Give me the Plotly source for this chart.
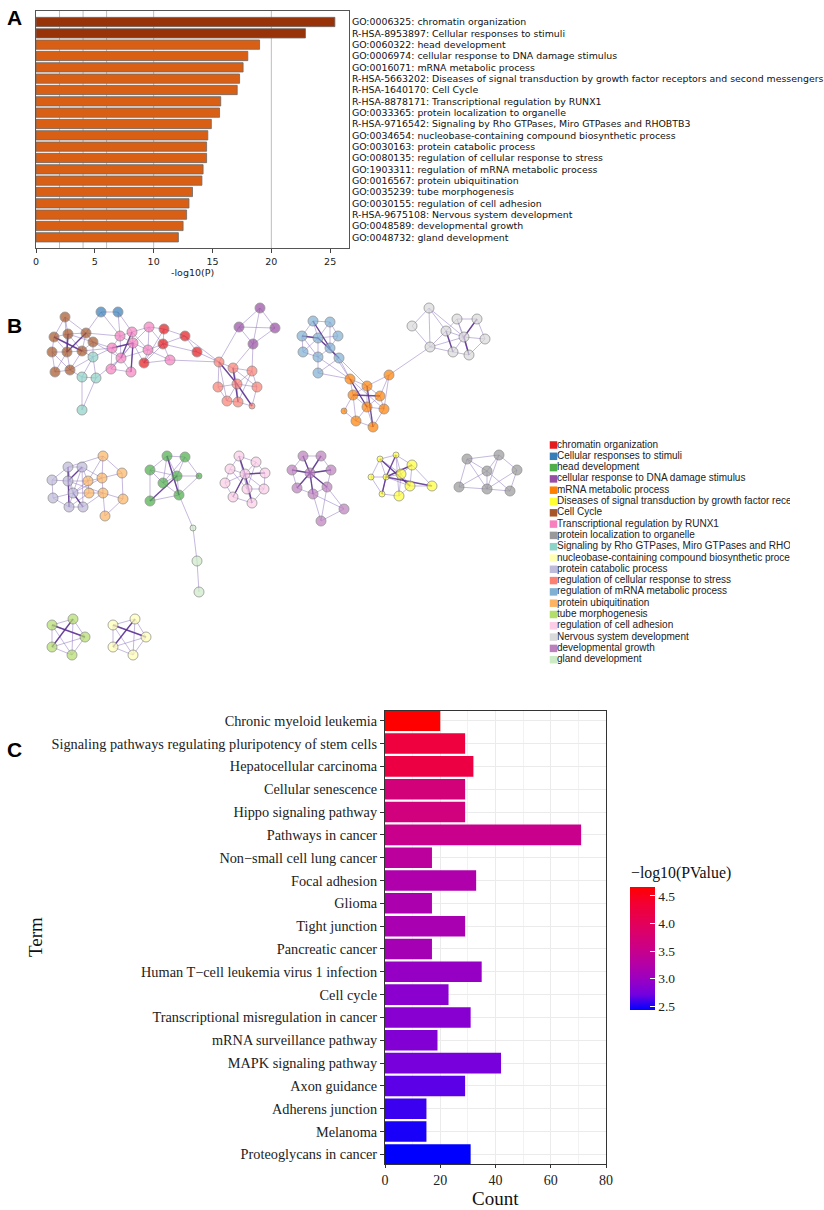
import plotly.graph_objects as go

W, H = 824, 1210

# ---------------- Panel A data ----------------
A_TERMS = [
    "GO:0006325: chromatin organization",
    "R-HSA-8953897: Cellular responses to stimuli",
    "GO:0060322: head development",
    "GO:0006974: cellular response to DNA damage stimulus",
    "GO:0016071: mRNA metabolic process",
    "R-HSA-5663202: Diseases of signal transduction by growth factor receptors and second messengers",
    "R-HSA-1640170: Cell Cycle",
    "R-HSA-8878171: Transcriptional regulation by RUNX1",
    "GO:0033365: protein localization to organelle",
    "R-HSA-9716542: Signaling by Rho GTPases, Miro GTPases and RHOBTB3",
    "GO:0034654: nucleobase-containing compound biosynthetic process",
    "GO:0030163: protein catabolic process",
    "GO:0080135: regulation of cellular response to stress",
    "GO:1903311: regulation of mRNA metabolic process",
    "GO:0016567: protein ubiquitination",
    "GO:0035239: tube morphogenesis",
    "GO:0030155: regulation of cell adhesion",
    "R-HSA-9675108: Nervous system development",
    "GO:0048589: developmental growth",
    "GO:0048732: gland development",
]
A_LOGP = [25.4, 22.9, 19.0, 18.0, 17.6, 17.3, 17.1, 15.7, 15.6, 14.9,
          14.6, 14.5, 14.5, 14.2, 14.1, 13.3, 13.0, 12.8, 12.5, 12.1]
A_TICKS = [0, 5, 10, 15, 20, 25]
A_GRID = [2, 4, 6, 10, 20]

# ---------------- Panel B data ----------------
B_TERMS = [
    "chromatin organization",
    "Cellular responses to stimuli",
    "head development",
    "cellular response to DNA damage stimulus",
    "mRNA metabolic process",
    "Diseases of signal transduction by growth factor receptors and second messengers",
    "Cell Cycle",
    "Transcriptional regulation by RUNX1",
    "protein localization to organelle",
    "Signaling by Rho GTPases, Miro GTPases and RHOBTB3",
    "nucleobase-containing compound biosynthetic process",
    "protein catabolic process",
    "regulation of cellular response to stress",
    "regulation of mRNA metabolic process",
    "protein ubiquitination",
    "tube morphogenesis",
    "regulation of cell adhesion",
    "Nervous system development",
    "developmental growth",
    "gland development",
]
B_KEYS = ["chrom", "stim", "head", "dna", "mrna", "dis", "cycle", "runx", "loc", "rho",
          "nuc", "cat", "stress", "regmrna", "ubq", "tube", "adh", "nerv", "growth", "gland"]

# node positions (network layout coordinates)
B_NODES = {
    "cycle": [(65, 317), (54, 337), (68, 334), (86, 333), (93, 342), (52, 352), (67, 352), (82, 351), (55, 372), (70, 370)],
    "stim": [(101, 312), (118, 312)],
    "rho": [(93, 357), (82, 377), (96, 378), (82, 410)],
    "runx": [(120, 336), (132, 332), (149, 327), (112, 348), (133, 343), (148, 350), (121, 358), (111, 369), (131, 372), (170, 360)],
    "chrom": [(164, 329), (185, 336), (163, 344), (197, 352), (144, 363)],
    "dna": [(260, 308), (239, 327), (275, 328), (253, 344)],
    "stress": [(219, 362), (233, 368), (252, 371), (218, 387), (237, 384), (257, 387), (227, 401), (238, 402), (252, 406)],
    "regmrna": [(313, 321), (330, 322), (302, 336), (318, 338), (338, 336), (303, 352), (330, 348), (318, 357), (339, 358), (318, 373)],
    "mrna": [(350, 379), (367, 386), (389, 375), (353, 395), (380, 396), (367, 407), (384, 409), (344, 411), (356, 421), (373, 427)],
    "nerv": [(429, 308), (412, 326), (430, 347), (446, 331), (457, 319), (477, 319), (464, 337), (485, 339), (453, 352), (469, 355)],
    "cat": [(68, 467), (82, 467), (52, 480), (68, 481), (73, 493), (53, 498), (69, 507), (83, 507)],
    "ubq": [(103, 456), (122, 473), (88, 481), (102, 478), (89, 493), (103, 493), (123, 499), (105, 516)],
    "head": [(167, 456), (185, 457), (150, 470), (177, 476), (199, 476), (163, 483), (150, 501), (179, 495)],
    "gland": [(193, 528), (197, 561), (199, 592)],
    "adh": [(239, 456), (256, 462), (230, 469), (245, 474), (265, 473), (225, 483), (247, 489), (264, 489), (233, 497), (252, 503)],
    "growth": [(303, 456), (321, 456), (292, 470), (310, 473), (331, 470), (297, 488), (313, 494), (327, 487), (344, 509), (321, 521)],
    "dis": [(380, 459), (396, 455), (412, 465), (371, 477), (386, 477), (401, 474), (410, 486), (432, 486), (382, 494), (399, 496)],
    "loc": [(467, 459), (499, 455), (487, 471), (517, 470), (459, 487), (487, 489), (510, 491)],
    "tube": [(52, 625), (73, 619), (85, 637), (52, 647), (72, 655)],
    "nuc": [(113, 625), (135, 619), (146, 637), (113, 647), (133, 655)],
}
B_SMALL = [("stress", 8), ("mrna", 7), ("head", 4), ("gland", 0),
           ("dis", 0), ("dis", 1), ("dis", 3), ("dis", 4), ("dis", 8)]

PENTA = [(0, 1), (1, 2), (2, 4), (4, 3), (3, 0), (0, 2), (1, 3), (1, 4), (2, 3), (0, 4)]
B_EDGES = {
    "cycle": [(0, 1), (0, 2), (0, 3), (1, 2), (1, 5), (1, 6), (2, 3), (2, 6), (2, 7), (3, 4), (3, 7), (4, 7),
              (5, 6), (5, 8), (6, 7), (6, 9), (7, 9), (8, 9), (1, 7), (2, 4), (5, 9), (6, 8), (0, 6), (3, 6)],
    "stim": [(0, 1)],
    "rho": [(0, 1), (0, 2), (1, 2), (1, 3), (2, 3)],
    "runx": [(0, 1), (0, 3), (0, 4), (1, 2), (1, 4), (2, 4), (2, 5), (3, 4), (3, 6), (4, 5), (4, 6), (4, 8),
             (5, 6), (6, 7), (6, 8), (7, 8), (5, 9), (0, 6), (3, 7), (1, 5), (4, 7)],
    "chrom": [(0, 1), (0, 2), (1, 2), (1, 3), (2, 3), (2, 4), (0, 4)],
    "dna": [(0, 1), (0, 2), (1, 3), (2, 3), (1, 2), (0, 3)],
    "stress": [(0, 1), (0, 3), (0, 4), (0, 6), (1, 2), (1, 4), (1, 7), (2, 4), (2, 5), (3, 4), (3, 6), (4, 5),
               (4, 6), (4, 7), (4, 8), (5, 8), (6, 7), (7, 8), (2, 7), (1, 5)],
    "regmrna": [(0, 1), (0, 2), (0, 3), (1, 3), (1, 4), (2, 3), (2, 5), (3, 4), (3, 6), (3, 7), (3, 8), (4, 6),
                (5, 7), (5, 3), (6, 8), (7, 9), (6, 7), (8, 9), (2, 7), (0, 6), (1, 6)],
    "mrna": [(0, 1), (0, 3), (0, 5), (1, 2), (1, 3), (1, 4), (1, 5), (2, 4), (3, 5), (3, 7), (4, 5), (4, 6),
             (5, 6), (5, 8), (5, 9), (6, 9), (7, 8), (8, 9), (0, 6), (2, 6), (3, 8)],
    "nerv": [(0, 1), (0, 2), (1, 2), (0, 3), (2, 3), (3, 4), (3, 6), (4, 5), (4, 6), (5, 6), (5, 7), (6, 7),
             (6, 8), (6, 9), (7, 9), (8, 9), (2, 8), (2, 6), (3, 8), (4, 9), (0, 6)],
    "cat": [(0, 1), (0, 2), (0, 3), (1, 3), (1, 4), (2, 3), (2, 5), (3, 4), (4, 5), (4, 6), (4, 7), (5, 6),
            (6, 7), (0, 4), (1, 7), (3, 6)],
    "ubq": [(0, 1), (0, 3), (1, 3), (1, 6), (2, 3), (3, 5), (5, 6), (4, 5), (5, 7), (6, 7), (2, 4), (0, 2)],
    "head": [(0, 1), (0, 2), (0, 3), (0, 7), (1, 3), (1, 4), (1, 5), (2, 5), (2, 6), (3, 4), (3, 5), (3, 7),
             (4, 7), (5, 7), (6, 7), (2, 3), (0, 5)],
    "gland": [(0, 1), (1, 2)],
    "adh": [(0, 1), (0, 2), (0, 3), (1, 3), (1, 4), (2, 3), (2, 5), (3, 4), (3, 6), (3, 7), (3, 8), (3, 9),
            (4, 7), (5, 8), (6, 7), (6, 9), (7, 9), (8, 9), (0, 6), (1, 6), (2, 6), (5, 3)],
    "growth": [(0, 1), (0, 2), (0, 3), (1, 3), (1, 4), (2, 3), (2, 5), (3, 4), (3, 5), (3, 6), (3, 7), (4, 7),
               (5, 6), (6, 7), (6, 8), (7, 8), (6, 9), (8, 9), (7, 9)],
    "dis": [(0, 1), (0, 3), (0, 4), (0, 5), (1, 2), (1, 5), (2, 5), (2, 6), (2, 7), (3, 4), (3, 8), (4, 5),
            (4, 6), (4, 8), (5, 6), (5, 9), (6, 7), (6, 9), (8, 9), (1, 9), (0, 6), (2, 4)],
    "loc": [(0, 1), (0, 2), (0, 4), (1, 2), (1, 3), (2, 4), (2, 5), (3, 5), (3, 6), (4, 5), (5, 6), (2, 6),
            (1, 5), (0, 5)],
    "tube": PENTA,
    "nuc": PENTA,
}
B_XEDGES = [
    (("stim", 0), ("cycle", 3)), (("stim", 1), ("runx", 1)), (("stim", 1), ("runx", 0)), (("stim", 0), ("runx", 0)),
    (("rho", 0), ("cycle", 4)), (("rho", 0), ("cycle", 7)), (("rho", 0), ("cycle", 9)), (("rho", 1), ("cycle", 9)),
    (("rho", 0), ("runx", 3)), (("rho", 2), ("runx", 6)),
    (("cycle", 4), ("runx", 3)), (("cycle", 3), ("runx", 0)), (("cycle", 4), ("runx", 6)), (("cycle", 7), ("runx", 3)),
    (("runx", 2), ("chrom", 0)), (("runx", 2), ("chrom", 2)), (("runx", 5), ("chrom", 2)), (("runx", 5), ("chrom", 4)),
    (("runx", 9), ("chrom", 2)), (("runx", 4), ("chrom", 4)), (("runx", 9), ("chrom", 4)),
    (("chrom", 3), ("stress", 0)), (("runx", 9), ("stress", 0)), (("chrom", 1), ("stress", 0)),
    (("dna", 1), ("stress", 0)), (("dna", 3), ("stress", 2)), (("dna", 3), ("stress", 1)),
    (("regmrna", 8), ("mrna", 0)), (("regmrna", 6), ("mrna", 0)), (("regmrna", 9), ("mrna", 0)),
    (("regmrna", 8), ("mrna", 1)), (("regmrna", 7), ("mrna", 0)),
    (("mrna", 2), ("nerv", 2)),
    (("cat", 3), ("ubq", 2)), (("cat", 4), ("ubq", 2)), (("cat", 1), ("ubq", 3)), (("cat", 4), ("ubq", 4)),
    (("cat", 0), ("ubq", 0)), (("cat", 7), ("ubq", 5)), (("cat", 4), ("ubq", 3)), (("cat", 1), ("ubq", 2)),
    (("cat", 3), ("ubq", 5)), (("cat", 6), ("ubq", 4)),
    (("head", 7), ("gland", 0)),
]
B_STRONG = [
    ("cycle", 1, 7), ("cycle", 2, 6), ("cycle", 6, 3), ("runx", 3, 4), ("runx", 4, 8), ("runx", 1, 6),
    ("stress", 4, 0), ("stress", 4, 8), ("stress", 1, 7), ("regmrna", 3, 2), ("regmrna", 3, 8), ("regmrna", 0, 6),
    ("mrna", 0, 5), ("mrna", 1, 9), ("mrna", 3, 4), ("nerv", 6, 5), ("nerv", 6, 9), ("nerv", 3, 8),
    ("cat", 3, 1), ("cat", 4, 7), ("cat", 0, 6), ("head", 0, 7), ("head", 3, 6),
    ("adh", 3, 0), ("adh", 3, 9), ("adh", 3, 8), ("adh", 3, 4),
    ("growth", 3, 0), ("growth", 3, 1), ("growth", 3, 4), ("growth", 3, 5), ("growth", 3, 6), ("growth", 3, 7), ("growth", 3, 2),
    ("dis", 4, 1), ("dis", 4, 2), ("dis", 4, 7), ("dis", 4, 8), ("dis", 0, 6),
    ("tube", 0, 2), ("tube", 1, 3), ("nuc", 0, 2), ("nuc", 1, 3),
]

# ---------------- Panel C data ----------------
C_TERMS = [
    "Chronic myeloid leukemia",
    "Signaling pathways regulating pluripotency of stem cells",
    "Hepatocellular carcinoma",
    "Cellular senescence",
    "Hippo signaling pathway",
    "Pathways in cancer",
    "Non\u2212small cell lung cancer",
    "Focal adhesion",
    "Glioma",
    "Tight junction",
    "Pancreatic cancer",
    "Human T\u2212cell leukemia virus 1 infection",
    "Cell cycle",
    "Transcriptional misregulation in cancer",
    "mRNA surveillance pathway",
    "MAPK signaling pathway",
    "Axon guidance",
    "Adherens junction",
    "Melanoma",
    "Proteoglycans in cancer",
]
C_COUNT = [20, 29, 32, 29, 29, 71, 17, 33, 17, 29, 17, 35, 23, 31, 19, 42, 29, 15, 15, 31]
C_LOGP = [4.67, 4.27, 4.22, 3.70, 3.67, 3.53, 3.35, 3.21, 3.18, 3.15,
          3.12, 2.97, 2.89, 2.86, 2.83, 2.75, 2.66, 2.58, 2.50, 2.44]
C_XTICKS = [0, 20, 40, 60, 80]
C_XMINOR = [10, 30, 50, 70]
C_CBAR_TICKS = [2.5, 3.0, 3.5, 4.0, 4.5]

# ---------------- styles ----------------
B_PALETTE = ["#E41A1C", "#377EB8", "#4DAF4A", "#984EA3", "#FF7F00", "#FFFF33", "#A65628", "#F781BF",
             "#999999", "#8DD3C7", "#FFFFB3", "#BEBADA", "#FB8072", "#80B1D3", "#FDB462", "#B3DE69",
             "#FCCDE5", "#D9D9D9", "#BC80BD", "#CCEBC5"]
C_SCALE = [[0.0, "rgb(0,0,255)"], [0.125, "rgb(115,0,224)"], [0.25, "rgb(154,0,194)"],
           [0.375, "rgb(181,0,165)"], [0.5, "rgb(202,0,136)"], [0.625, "rgb(218,0,108)"],
           [0.75, "rgb(232,0,79)"], [0.875, "rgb(244,0,49)"], [1.0, "rgb(255,0,0)"]]


def px(x):
    return x / W


def py(y):
    return 1 - y / H


fig = go.Figure()

# ---------- Panel A ----------
a_colors = ["#983208" if v > 20 else "#D95F14" for v in A_LOGP]
fig.add_trace(go.Bar(
    x=A_LOGP, y=A_TERMS, orientation="h", xaxis="x", yaxis="y", width=0.82,
    marker=dict(color=a_colors, line=dict(color="#6a6a6a", width=0.8)),
    showlegend=False, hoverinfo="skip"))

# ---------- Panel B ----------
key_color = {k: B_PALETTE[i] for i, k in enumerate(B_KEYS)}


def edge_xy(pairs):
    xs, ys = [], []
    for (x0, y0), (x1, y1) in pairs:
        xs += [x0, x1, None]
        ys += [y0, y1, None]
    return xs, ys


light = []
for k, prs in B_EDGES.items():
    for i, j in prs:
        light.append((B_NODES[k][i], B_NODES[k][j]))
for (k1, i), (k2, j) in B_XEDGES:
    light.append((B_NODES[k1][i], B_NODES[k2][j]))
strong = [(B_NODES[k][i], B_NODES[k][j]) for k, i, j in B_STRONG]

lx, ly = edge_xy(light)
fig.add_trace(go.Scatter(x=lx, y=ly, mode="lines", xaxis="x2", yaxis="y2",
                         line=dict(color="rgba(150,125,195,0.55)", width=1),
                         showlegend=False, hoverinfo="skip"))
sx, sy = edge_xy(strong)
fig.add_trace(go.Scatter(x=sx, y=sy, mode="lines", xaxis="x2", yaxis="y2",
                         line=dict(color="rgba(88,45,145,0.85)", width=1.4),
                         showlegend=False, hoverinfo="skip"))

small = set(B_SMALL)
nx, ny, nc, ns = [], [], [], []
for k in B_KEYS:
    for i, (x, y) in enumerate(B_NODES[k]):
        nx.append(x)
        ny.append(y)
        nc.append(key_color[k])
        ns.append(6 if (k, i) in small else 10)
fig.add_trace(go.Scatter(x=nx, y=ny, mode="markers", xaxis="x2", yaxis="y2",
                         marker=dict(color=nc, size=ns, line=dict(color="#6a6a6a", width=0.8)),
                         showlegend=False, hoverinfo="skip"))

# B legend (squares + clipped labels)
leg_y = [445 + 11.3 * i for i in range(len(B_TERMS))]
fig.add_trace(go.Scatter(x=[553.5] * len(B_TERMS), y=leg_y, mode="markers", xaxis="x2", yaxis="y2",
                         marker=dict(symbol="square", size=7.5, color=B_PALETTE, line=dict(width=0)),
                         showlegend=False, hoverinfo="skip"))
fig.add_trace(go.Scatter(x=[557] * len(B_TERMS), y=leg_y, mode="text", xaxis="x2", yaxis="y2",
                         text=B_TERMS, textposition="middle right", cliponaxis=True,
                         textfont=dict(family="Liberation Sans", size=10, color="#222"),
                         showlegend=False, hoverinfo="skip"))

# ---------- Panel C ----------
serif = "Liberation Serif"
fig.add_trace(go.Bar(
    x=C_COUNT, y=C_TERMS, orientation="h", xaxis="x3", yaxis="y3", width=0.9,
    marker=dict(color=C_LOGP, colorscale=C_SCALE, cmin=2.44, cmax=4.67, line=dict(width=0),
                colorbar=dict(x=px(630), xanchor="left", y=py(948), yanchor="middle",
                              len=122.6, lenmode="pixels", thickness=25, thicknessmode="pixels",
                              tickvals=C_CBAR_TICKS, ticktext=[f"{v:.1f}" for v in C_CBAR_TICKS],
                              ticks="inside", ticklen=5, tickcolor="white", tickwidth=1,
                              tickfont=dict(family=serif, size=13.5, color="#222"),
                              outlinewidth=0, xpad=0, ypad=0)),
    showlegend=False, hoverinfo="skip"))

fig.update_layout(
    width=W, height=H, margin=dict(l=0, r=0, t=0, b=0, autoexpand=False),
    paper_bgcolor="white", plot_bgcolor="white", showlegend=False,
    xaxis=dict(domain=[px(36), px(349)], range=[0, 26.6], anchor="y", tickvals=A_TICKS,
               ticks="outside", ticklen=4, tickcolor="#444", showline=True, linecolor="#555",
               linewidth=1, mirror=True, showgrid=False, zeroline=False, automargin=False,
               tickfont=dict(family="DejaVu Sans", size=9.5, color="#222")),
    yaxis=dict(domain=[py(248.3), py(11)], type="category", range=[19.97, -0.97], anchor="x",
               side="right", showline=True, linecolor="#555", linewidth=1, mirror=True,
               ticks="", showgrid=False, zeroline=False, automargin=False,
               tickfont=dict(family="DejaVu Sans", size=9.4, color="#111")),
    xaxis2=dict(domain=[0, px(790)], range=[0, 790], anchor="y2", visible=False, fixedrange=True,
                automargin=False),
    yaxis2=dict(domain=[py(680), py(290)], range=[680, 290], anchor="x2", visible=False, fixedrange=True,
                automargin=False),
    xaxis3=dict(domain=[px(385), px(606)], range=[0, 80], anchor="y3", tickvals=C_XTICKS,
                ticks="outside", ticklen=3, tickcolor="#333", showline=True, linecolor="#333",
                linewidth=1, mirror=True, showgrid=True, gridcolor="#EBEBEB", gridwidth=1,
                minor=dict(tickvals=C_XMINOR, showgrid=True, gridcolor="#F2F2F2", gridwidth=0.8),
                zeroline=False, automargin=False, tickfont=dict(family=serif, size=14, color="#222")),
    yaxis3=dict(domain=[py(1164), py(710.7)], type="category", range=[19.42, -0.44], anchor="x3",
                ticks="outside", ticklen=4, tickcolor="#333", showline=True, linecolor="#333",
                linewidth=1, mirror=True, showgrid=True, gridcolor="#EBEBEB", gridwidth=1,
                zeroline=False, automargin=False, tickfont=dict(family=serif, size=14.3, color="#222")),
)

shapes = []
for g in A_GRID:
    shapes.append(dict(type="line", xref="x", yref="y domain", x0=g, x1=g, y0=0, y1=1,
                       line=dict(color="#BDBDBD", width=1), layer="below"))
fig.update_layout(shapes=shapes)

ann = [
    dict(text="<b>A</b>", x=px(14), y=py(17.5), font=dict(family="Liberation Sans", size=21, color="black")),
    dict(text="<b>B</b>", x=px(14), y=py(325), font=dict(family="Liberation Sans", size=21, color="black")),
    dict(text="<b>C</b>", x=px(14), y=py(749), font=dict(family="Liberation Sans", size=21, color="black")),
    dict(text="-log10(P)", x=px(192.5), y=py(273), font=dict(family="DejaVu Sans", size=9.5, color="#222")),
    dict(text="Term", x=px(35), y=py(937), textangle=-90, font=dict(family=serif, size=19, color="#111")),
    dict(text="Count", x=px(495.5), y=py(1198), font=dict(family=serif, size=19, color="#111")),
]
for a in ann:
    a.update(xref="paper", yref="paper", showarrow=False, xanchor="center", yanchor="middle")
ann.append(dict(text="\u2212log10(PValue)", x=px(629), y=py(873), xref="paper", yref="paper",
                showarrow=False, xanchor="left", yanchor="middle",
                font=dict(family=serif, size=15.8, color="#111")))
fig.update_layout(annotations=ann)

fig.write_html("out.html", config={"displayModeBar": False},
               post_script="document.body.style.margin='0';document.body.style.padding='0';")
